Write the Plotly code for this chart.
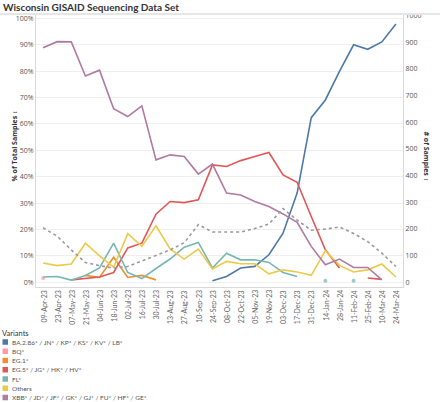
import plotly.graph_objects as go

dates = ["09-Apr-23", "23-Apr-23", "07-May-23", "21-May-23", "04-Jun-23", "18-Jun-23",
         "02-Jul-23", "16-Jul-23", "30-Jul-23", "13-Aug-23", "27-Aug-23", "10-Sep-23",
         "24-Sep-23", "08-Oct-23", "22-Oct-23", "05-Nov-23", "19-Nov-23", "03-Dec-23",
         "17-Dec-23", "31-Dec-23", "14-Jan-24", "28-Jan-24", "11-Feb-24", "25-Feb-24",
         "10-Mar-24", "24-Mar-24"]

N = None
ba286 = [N, N, N, N, N, N, N, N, N, N, N, N, 0.6, 2.2, 5.4, 6.0, 10.4, 18.6, 33.8,
         62.4, 69.1, 79.9, 90.0, 88.3, 91.1, 97.9]
bq = [1.5, N, N, N, N, N, N, N, N, N, N, N, N, N, N, N, N, N, N, N, N, N, N, N, N, N]
eg1 = [N, N, N, 2.6, 1.8, 9.5, 1.8, 2.6, 0.9, N, N, N, N, N, N, N, N, N, N, N, N, N, N, N, N, N]
eg5 = [N, N, 0.9, 1.4, 2.0, 3.7, 13.0, 14.8, 25.8, 30.6, 30.2, 31.3, 44.5, 43.9, 46.1,
       47.7, 49.2, 40.7, 37.9, 24.9, 12.3, 5.4, N, 1.6, 1.1, N]
fl = [2.0, 2.2, 0.8, 2.6, 5.4, 14.8, 3.7, 1.4, 5.2, 8.8, 13.3, 15.1, 5.4, 11.0, 8.5,
      8.5, 7.5, 3.7, 2.2, N, 0.6, N, 0.6, N, N, N]
others = [7.3, 6.3, 6.9, 14.8, 10.0, 5.7, 18.4, 13.6, 21.4, 12.6, 8.8, 12.6, 5.0, 7.9,
          7.0, 7.0, 3.2, 4.7, 3.9, 2.6, 12.0, 6.4, 3.9, 4.7, 6.9, 2.0]
xbb = [88.9, 91.2, 91.1, 78.2, 80.4, 65.8, 62.8, 66.9, 46.4, 48.3, 47.7, 41.0, 44.8,
       33.8, 33.1, 30.6, 28.7, 25.9, 22.7, 13.6, 6.6, 8.8, 5.6, 5.6, 0.9, N]
samples = [204, 173, 121, 74, 62, 53, 59, 79, 98, 121, 148, 216, 188, 188, 188, 201,
           218, 276, 233, 195, 199, 207, 183, 152, 109, 59]

series = [
    ("BA.2.86* / JN* / KP* / KS* / KV* / LB*", ba286, "#4e79a7"),
    ("BQ*", bq, "#ff9da7"),
    ("EG.1*", eg1, "#f28e2b"),
    ("EG.5* / JG* / HK* / HV*", eg5, "#e15759"),
    ("FL*", fl, "#76b7b2"),
    ("Others", others, "#edc948"),
    ("XBB* / JD* / JF* / GK* / GJ* / FU* / HF* / GE*", xbb, "#b07aa1"),
]

FONT = "Open Sans"
W, H = 440, 402
ML, MR, MT, MB = 36, 37, 15, 115
PW, PH = W - ML - MR, H - MT - MB


def px(x):
    return (x - ML) / PW


def py(y):
    return (H - MB - y) / PH


fig = go.Figure()


def isolated_sizes(vals):
    out = []
    for i, v in enumerate(vals):
        prev_none = i == 0 or vals[i - 1] is None
        next_none = i == len(vals) - 1 or vals[i + 1] is None
        out.append(4 if (v is not None and prev_none and next_none) else 0)
    return out


fig.add_trace(go.Scatter(
    x=dates, y=samples, yaxis="y2", mode="lines",
    line=dict(color="#9a9a9a", width=1.6, dash="dot"),
    showlegend=False, hoverinfo="skip"))

for name, vals, color in series:
    fig.add_trace(go.Scatter(
        x=dates, y=vals, mode="lines+markers", name=name,
        line=dict(color=color, width=1.6),
        marker=dict(color=color, size=isolated_sizes(vals), line=dict(width=0)),
        connectgaps=False, showlegend=False))

annotations = [
    dict(text="<b>Wisconsin GISAID Sequencing Data Set</b>", xref="paper", yref="paper",
         x=px(1), y=py(7), xanchor="left", yanchor="middle", showarrow=False,
         font=dict(size=10, color="#333333", family="Lato")),
    dict(text="<b>% of Total Samples ↕</b>", xref="paper", yref="paper",
         x=px(7), y=py(146), textangle=-90, showarrow=False,
         font=dict(size=7, color="#333333")),
    dict(text="<b># of Samples ↕</b>", xref="paper", yref="paper",
         x=px(432), y=py(156), textangle=90, showarrow=False,
         font=dict(size=7, color="#333333")),
    dict(text="Variants", xref="paper", yref="paper", x=px(0), y=py(333),
         xanchor="left", yanchor="middle", showarrow=False,
         font=dict(size=7.5, color="#333333", family="Lato")),
]

# category labels along the x axis (rotated, reading upward)
for d in dates:
    annotations.append(dict(text=d, xref="x", yref="paper", x=d, y=py(289),
                            xanchor="center", yanchor="top", textangle=-90,
                            showarrow=False, borderpad=0,
                            font=dict(size=7, color="#666666", family="Lato")))

shapes = [dict(type="line", xref="paper", yref="paper", x0=px(0), x1=px(440),
               y0=py(14), y1=py(14), line=dict(color="#e6e6e6", width=2))]

for k, (name, vals, color) in enumerate(series):
    yc = 342 + 9.25 * k
    shapes.append(dict(type="rect", xref="paper", yref="paper",
                       x0=px(2.5), x1=px(8), y0=py(yc - 2.75), y1=py(yc + 2.75),
                       fillcolor=color, line=dict(width=0)))
    annotations.append(dict(text=name, xref="paper", yref="paper", x=px(9.5), y=py(yc),
                            xanchor="left", yanchor="middle", showarrow=False,
                            font=dict(size=6.5, color="#555555", family="Lato")))

fig.update_layout(
    width=W, height=H,
    margin=dict(l=ML, r=MR, t=MT, b=MB, pad=0),
    paper_bgcolor="white", plot_bgcolor="white",
    font=dict(family=FONT, color="#555555", size=7),
    xaxis=dict(type="category", categoryorder="array", categoryarray=dates,
               range=[-0.5, 25.5], showticklabels=False, showgrid=False,
               automargin=False, ticks="",
               showline=True, linecolor="#d9d9d9", linewidth=1, zeroline=False),
    yaxis=dict(range=[-1.8, 101.3], tickvals=list(range(0, 101, 10)),
               ticktext=[f"{v}%" for v in range(0, 101, 10)], automargin=False,
               showgrid=True, gridcolor="#efefef", gridwidth=1, zeroline=False,
               showline=True, linecolor="#d9d9d9", ticks="",
               tickfont=dict(size=7, color="#555555")),
    yaxis2=dict(range=[-18, 1002], overlaying="y", side="right", automargin=False,
                tickvals=list(range(0, 1001, 100)), showgrid=False, zeroline=False,
                showline=True, linecolor="#d9d9d9", ticks="",
                tickfont=dict(size=7, color="#555555")),
    showlegend=False,
    annotations=annotations,
    shapes=shapes,
)

fig.write_html("out.html", config={"displayModeBar": False},
               post_script="document.body.style.margin='0';")
